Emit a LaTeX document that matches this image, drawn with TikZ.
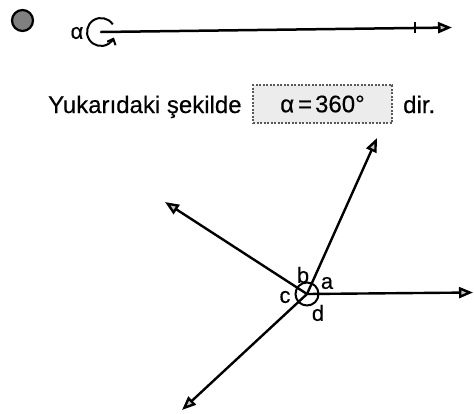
\documentclass[tikz,border=0pt]{standalone}
\usepackage{fontspec}
\setmainfont{Liberation Sans}[FakeBold=0.35]
\usetikzlibrary{arrows.meta}
\begin{document}
\begin{tikzpicture}[x=1pt,y=-1pt,
  ray/.style={line width=2.4pt, line cap=round,
    -{Triangle[length=14pt,width=11pt,fill=gray!45,line join=miter]}},
  lbl/.style={inner sep=0pt, font=\fontsize{22}{22}\selectfont},
  txt/.style={inner sep=0pt, anchor=base west, font=\fontsize{24}{24}\selectfont}]
\useasboundingbox (0,0) rectangle (474,413);
% bullet
\node[circle, draw=black, line width=2.2pt, fill=black!50, minimum size=21pt, inner sep=0pt] (bullet) at (22.5,20.5) {};
% top ray with full angle
\node[inner sep=0pt, font=\fontsize{22}{22}\selectfont] (alpha) at (77,33) {α};
\coordinate (S) at (101,32);
\coordinate (E) at (452,27.5);
\draw[ray, line width=2.5pt] (S) -- (E);
\draw[line width=2pt] (415,22) -- (415,33);
\draw[line width=2pt, -{Straight Barb[length=5pt,width=9pt]}] (S) ++(-33:14) arc[start angle=-33, end angle=-337, radius=14];
% sentence
\node[txt] (t1) at (48,113) {Yukarıdaki şekilde};
\node[draw=black!65, dash pattern=on 2pt off 1.5pt, fill=gray!15, line width=1.1pt,
      minimum width=139pt, minimum height=38pt, inner sep=0pt,
      font=\fontsize{24}{24}\selectfont] (box) at (322.5,104) {α\hspace{4pt}=\hspace{3pt}360°};
\node[txt] (t2) at (403,113) {dir.};
% four rays
\coordinate (O) at (307,294);
\coordinate (A) at (473,292.5);
\coordinate (B) at (377,138);
\coordinate (C) at (165,202);
\coordinate (D) at (182,410);
\draw[ray] (O) -- (A);
\draw[ray] (O) -- (B);
\draw[ray] (O) -- (C);
\draw[ray] (O) -- (D);
\draw[line width=2pt] (O) circle[radius=11.5];
\node[lbl] (lb) at (303,275) {b};
\node[lbl] (la) at (327,283) {a};
\node[lbl] (lc) at (285,297) {c};
\node[lbl] (ld) at (318,313) {d};
\end{tikzpicture}
\end{document}
